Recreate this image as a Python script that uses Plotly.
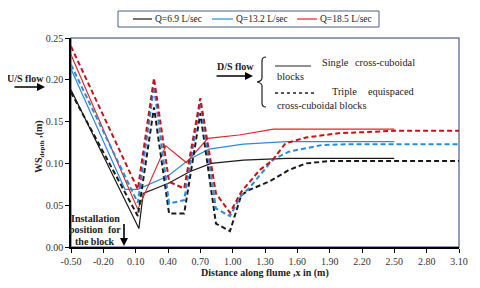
import plotly.graph_objects as go

# ---------------- data ----------------
x_bk_s = [-0.50, 0.13, 0.17, 0.40, 0.60, 0.80, 1.10, 1.50, 2.50]
y_bk_s = [0.188, 0.022, 0.064, 0.076, 0.090, 0.100, 0.104, 0.106, 0.106]

x_bl_s = [-0.50, 0.00, 0.12, 0.40, 0.60, 0.78, 1.10, 1.50, 2.50]
y_bl_s = [0.213, 0.069, 0.069, 0.085, 0.105, 0.117, 0.123, 0.126, 0.126]

x_rd_s = [-0.50, 0.12, 0.38, 0.57, 0.77, 0.85, 1.06, 1.38, 2.50]
y_rd_s = [0.230, 0.045, 0.121, 0.101, 0.130, 0.131, 0.134, 0.141, 0.141]

x_bk_d = [-0.50, 0.12, 0.27, 0.41, 0.55, 0.70, 0.845, 0.975, 1.08, 1.15, 1.35, 1.52, 1.68, 1.92, 2.50, 3.10]
y_bk_d = [0.185, 0.037, 0.167, 0.040, 0.040, 0.160, 0.028, 0.019, 0.062, 0.068, 0.079, 0.092, 0.100, 0.103, 0.103, 0.103]

x_bl_d = [-0.50, 0.12, 0.27, 0.41, 0.55, 0.70, 0.845, 0.975, 1.08, 1.15, 1.37, 1.52, 1.83, 2.10, 2.50, 3.10]
y_bl_d = [0.218, 0.053, 0.192, 0.052, 0.056, 0.173, 0.046, 0.037, 0.062, 0.070, 0.104, 0.114, 0.122, 0.123, 0.123, 0.123]

x_rd_d = [-0.50, 0.12, 0.27, 0.41, 0.55, 0.70, 0.845, 0.975, 1.08, 1.25, 1.37, 1.49, 1.68, 1.98, 2.50, 3.10]
y_rd_d = [0.240, 0.069, 0.202, 0.078, 0.070, 0.178, 0.064, 0.041, 0.066, 0.092, 0.104, 0.124, 0.131, 0.136, 0.139, 0.139]

legend_names = ["Q=6.9 L/sec", "Q=13.2 L/sec", "Q=18.5 L/sec"]
x_ticks = [-0.50, -0.20, 0.10, 0.40, 0.70, 1.00, 1.30, 1.60, 1.90, 2.20, 2.50, 2.80, 3.10]
y_ticks = [0.00, 0.05, 0.10, 0.15, 0.20, 0.25]

# ---------------- style ----------------
FONT = "Liberation Serif"
BLACK = "#1a1a1a"
BLUE = "#2f8ad6"
RED_S = "#e0262a"
RED_D = "#c4121c"
COLORS_S = [BLACK, BLUE, RED_S]

OFF = 8                         # page body margin
L, R, T, B = 71, 459, 38, 247   # plot area in page pixels
W, H = 480, 288


def px(x):
    return (x - L) / (R - L)


def py(y):
    return (B - y) / (B - T)


fig = go.Figure()

solid = [(x_bk_s, y_bk_s), (x_bl_s, y_bl_s), (x_rd_s, y_rd_s)]
dashed = [(x_bk_d, y_bk_d, BLACK), (x_bl_d, y_bl_d, BLUE), (x_rd_d, y_rd_d, RED_D)]

for (xs, ys), c, name in zip(solid, COLORS_S, legend_names):
    fig.add_trace(go.Scatter(x=xs, y=ys, mode="lines", name=name, showlegend=False,
                             line=dict(color=c, width=1.2)))
for xs, ys, c in dashed:
    fig.add_trace(go.Scatter(x=xs, y=ys, mode="lines", showlegend=False,
                             line=dict(color=c, width=2, dash="5px,3px")))

fig.update_layout(
    width=W, height=H,
    margin=dict(l=L - OFF, r=W - (R - OFF), t=T - OFF, b=H - (B - OFF)),
    paper_bgcolor="white", plot_bgcolor="white",
    font=dict(family=FONT, size=10, color="#333"),
    showlegend=False,
    xaxis=dict(range=[-0.5, 3.1], tickvals=x_ticks, ticktext=[f"{v:.2f}" for v in x_ticks],
               showgrid=False, zeroline=False, showline=True, linecolor="black", linewidth=1.5,
               ticks="outside", ticklen=4, tickcolor="black",
               tickfont=dict(family=FONT, size=10, color="#333")),
    yaxis=dict(range=[0, 0.25], tickvals=y_ticks, ticktext=[f"{v:.2f}" for v in y_ticks],
               showgrid=False, zeroline=False, showline=True, linecolor="black", linewidth=1.5,
               ticks="outside", ticklen=4, tickcolor="black",
               tickfont=dict(family=FONT, size=10, color="#333")),
)

shapes = []
# plot frame (top/right slate)
shapes.append(dict(type="rect", xref="paper", yref="paper", x0=0, y0=0, x1=1, y1=1,
                   line=dict(color="#6f7fa3", width=1.5), layer="below"))


def P(x, y):
    return f"{px(x):.5f},{py(y):.5f}"


def hline(x0, x1, y, color, width=1, dash="solid"):
    shapes.append(dict(type="line", xref="paper", yref="paper", x0=px(x0), x1=px(x1),
                       y0=py(y), y1=py(y), line=dict(color=color, width=width, dash=dash)))


# legend box (manual)
shapes.append(dict(type="rect", xref="paper", yref="paper", x0=px(118), x1=px(379),
                   y0=py(27), y1=py(11), line=dict(color="#4a5f8c", width=1), fillcolor="white"))
leg_line_x = [(133, 152), (212, 233), (297, 317)]
for (a, b), c in zip(leg_line_x, COLORS_S):
    hline(a, b, 19, c, 1.2)

brace = (f"M{P(266,57)} Q{P(262,57)} {P(262,61)} L{P(262,78)} Q{P(262,81)} {P(257,82)} "
         f"Q{P(262,83)} {P(262,86)} L{P(262,103)} Q{P(262,107)} {P(266,107)}")
shapes.append(dict(type="path", xref="paper", yref="paper", path=brace,
                   line=dict(color="#222", width=1.2)))
hline(275, 311, 66, "#222", 1)
hline(275, 316, 93, "#222", 1.5, "dot")
fig.update_layout(shapes=shapes)


def txt(x, y, s, anchor="center", size=10, bold=False, color="#222", angle=0):
    fig.add_annotation(xref="paper", yref="paper", x=px(x), y=py(y),
                       text=(f"<b>{s}</b>" if bold else s),
                       showarrow=False, xanchor=anchor, yanchor="middle", textangle=angle,
                       font=dict(family=FONT, size=size, color=color))


def arrow(x0, y0, x1, y1):
    fig.add_annotation(xref="paper", yref="paper", x=px(x1), y=py(y1), ax=x0 - x1, ay=y0 - y1,
                       text=" ", showarrow=True, arrowhead=2, arrowsize=1, arrowwidth=1.6,
                       arrowcolor="black", font=dict(size=1))


for (a, b), name in zip(leg_line_x, legend_names):
    txt(b + 1, 19, name, anchor="left", size=9.5, color="#222")

txt(25, 78, "U/S flow", bold=True, size=10)
arrow(13, 87, 45, 87)
txt(235, 66, "D/S flow", bold=True, size=10)
arrow(215, 76, 253, 76)

txt(320, 62, "Single", anchor="left", size=10.3)
txt(417, 62, "cross-cuboidal", anchor="right", size=10.3)
txt(275, 76, "blocks", anchor="left", size=10.3)
txt(330, 91, "Triple", anchor="left", size=10.3)
txt(417, 91, "equispaced", anchor="right", size=10.3)
txt(275, 105, "cross-cuboidal blocks", anchor="left", size=10.3)

txt(95, 218, "Installation", bold=True, size=10)
txt(95, 229.5, "position  for", bold=True, size=10)
txt(95, 241, "the block", bold=True, size=10)
arrow(124, 222, 124, 246)

txt(265, 273, "Distance along flume ,x in (m)", bold=True, size=10)
txt(39, 147, "WS<sub>depth</sub> ,(m)", bold=True, size=10, angle=-90)

fig.write_html("out.html")
